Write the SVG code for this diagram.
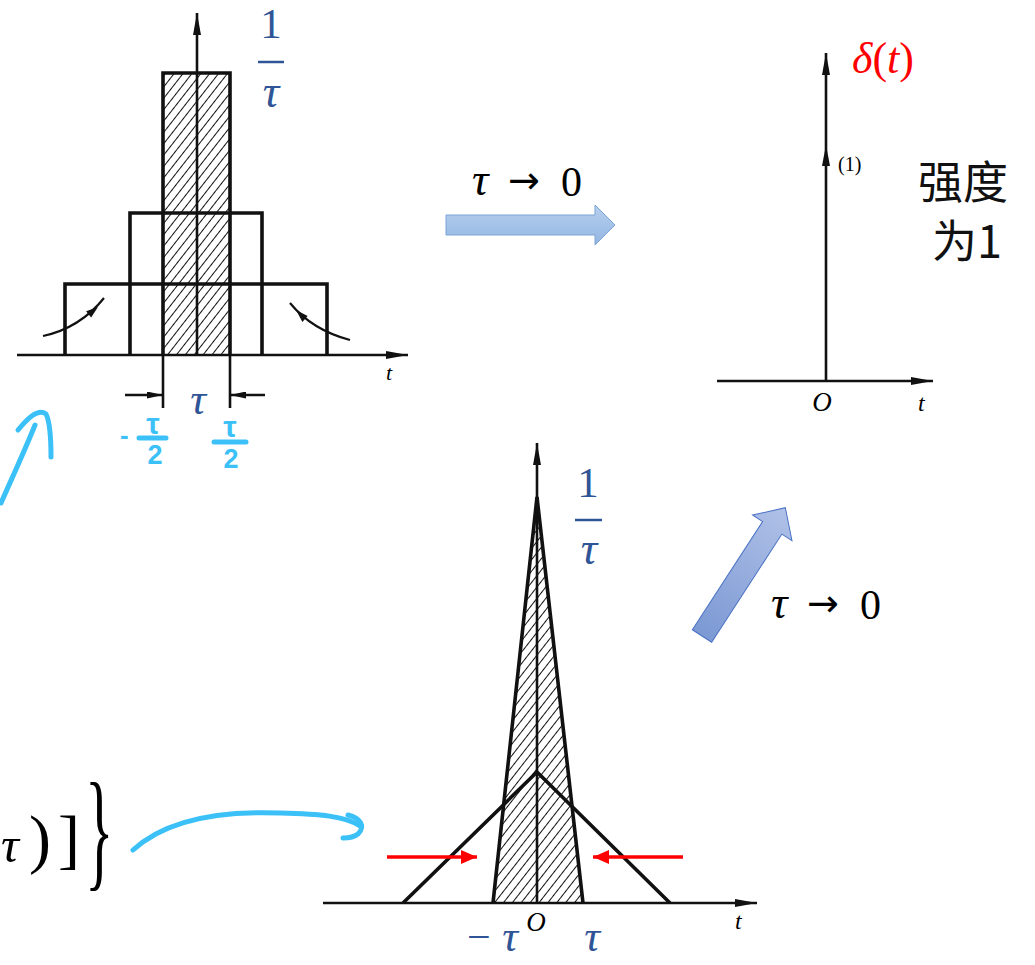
<svg xmlns="http://www.w3.org/2000/svg" width="1035" height="965" viewBox="0 0 1035 965">
<style>
.ax{stroke:#111;stroke-width:2.6;fill:none}
.bold{stroke:#111;stroke-width:3.6;fill:none}
.thin{stroke:#111;stroke-width:2.2;fill:none}
.math{font-family:"Liberation Serif",serif;font-style:italic}
.rm{font-family:"Liberation Serif",serif}
.up{font-style:normal}
.blue{fill:#2F5597}
.cyan{stroke:#3BC1F7;stroke-width:5;fill:none;stroke-linecap:round;stroke-linejoin:round}
.cyt{fill:#3BC1F7;font-family:"Liberation Sans",sans-serif;font-weight:bold}
.cybar{stroke:#3BC1F7;stroke-width:5;stroke-linecap:round}
.bbar{stroke:#2F5597;stroke-width:2.5}
.arr{font-family:"DejaVu Sans",sans-serif;font-style:normal}
</style>
<defs>
<pattern id="hatch" width="7" height="7" patternUnits="userSpaceOnUse" patternTransform="rotate(38)"><line x1="0" y1="0" x2="0" y2="7" stroke="#111" stroke-width="2"/></pattern>
<marker id="ah" viewBox="0 0 22 8" refX="22" refY="4" markerWidth="22" markerHeight="8" markerUnits="userSpaceOnUse" orient="auto"><path d="M0,0 L22,4 L0,8 z" fill="#111"/></marker>
<marker id="ahs" viewBox="0 0 16 7" refX="16" refY="3.5" markerWidth="16" markerHeight="7" markerUnits="userSpaceOnUse" orient="auto"><path d="M0,0 L16,3.5 L0,7 z" fill="#111"/></marker>
<marker id="ahr" viewBox="0 0 16 14" refX="16" refY="7" markerWidth="16" markerHeight="14" markerUnits="userSpaceOnUse" orient="auto"><path d="M0,0 L16,7 L0,14 z" fill="#FF0000"/></marker>
<linearGradient id="gH" x1="0" y1="0" x2="0" y2="1"><stop offset="0" stop-color="#B7CFEE"/><stop offset="1" stop-color="#93B6E2"/></linearGradient>
<linearGradient id="gD" x1="0" y1="0" x2="1" y2="0"><stop offset="0" stop-color="#7C99D4"/><stop offset="1" stop-color="#B0C1E7"/></linearGradient>
</defs>
<rect width="1035" height="965" fill="#fff"/>

<g id="rect-pulses">
  <rect x="163" y="73" width="67" height="282" fill="url(#hatch)"/>
  <path class="bold" d="M163 355 V73 H230 V355 M130 355 V213 H262 V355 M65 355 V284 H327 V355"/>
  <line class="ax" x1="17" y1="355" x2="408" y2="355" marker-end="url(#ah)"/>
  <line class="ax" x1="197" y1="355" x2="197" y2="13" marker-end="url(#ah)"/>
  <path class="thin" d="M43 336 Q80 328 104 298"/>
  <polygon points="98,307 91.1,317.5 86.1,311.3" fill="#111"/>
  <path class="thin" d="M350 340 Q312 330 290 303"/>
  <polygon points="296,310 307.6,315.9 302.4,321.9" fill="#111"/>
  <path class="ax" d="M163 355 V408 M230 355 V408"/>
  <line class="ax" x1="125" y1="395" x2="163" y2="395" marker-end="url(#ahs)"/>
  <line class="ax" x1="265" y1="395" x2="230" y2="395" marker-end="url(#ahs)"/>
  <text class="math" x="386" y="380" font-size="22">t</text>
  <text class="math blue" x="198" y="414" font-size="44" text-anchor="middle">τ</text>
  <text class="rm blue" x="271" y="38" font-size="43" text-anchor="middle">1</text>
  <line class="bbar" x1="258" y1="62" x2="284" y2="62"/>
  <text class="math blue" x="271" y="107" font-size="46" text-anchor="middle">τ</text>
  <text class="cyt" x="120" y="444" font-size="26">-</text>
  <text class="cyt" x="153" y="434" font-size="30" text-anchor="middle">τ</text>
  <line class="cybar" x1="139" y1="438" x2="166" y2="438"/>
  <text class="cyt" x="155" y="464" font-size="27" text-anchor="middle">2</text>
  <text class="cyt" x="230" y="437" font-size="30" text-anchor="middle">τ</text>
  <line class="cybar" x1="214" y1="442" x2="246" y2="442"/>
  <text class="cyt" x="231" y="468" font-size="27" text-anchor="middle">2</text>
</g>

<g id="delta">
  <line class="ax" x1="826" y1="381" x2="826" y2="53" marker-end="url(#ah)"/>
  <polygon points="826,145 822,166 830,166" fill="#111"/>
  <line class="ax" x1="717" y1="381" x2="933" y2="381" marker-end="url(#ah)"/>
  <text class="rm" x="838" y="171" font-size="20">(1)</text>
  <text class="math" x="822" y="411" font-size="27" text-anchor="middle">O</text>
  <text class="math" x="918" y="411" font-size="24">t</text>
  <text class="math" x="852" y="73" font-size="44" fill="#FF0000">δ<tspan class="up">(</tspan>t<tspan class="up">)</tspan></text>
  <text x="918" y="199" font-size="45" font-family="Noto Sans CJK SC, sans-serif" fill="#111">强度</text>
  <text x="932" y="258" font-size="45" font-family="Noto Sans CJK SC, sans-serif" fill="#111">为1</text>
</g>

<g id="tri-pulses">
  <polygon points="537,497 493,903 583,903" fill="url(#hatch)"/>
  <line class="ax" x1="537" y1="903" x2="537" y2="443" marker-end="url(#ah)"/>
  <path class="bold" d="M493 903 L537 497 L583 903"/>
  <path class="bold" d="M403 903 L537 772 L670 903"/>
  <line class="ax" x1="323" y1="903" x2="757" y2="903" marker-end="url(#ah)"/>
  <line x1="387" y1="857" x2="477" y2="857" stroke="#FF0000" stroke-width="3.5" marker-end="url(#ahr)"/>
  <line x1="683" y1="857" x2="593" y2="857" stroke="#FF0000" stroke-width="3.5" marker-end="url(#ahr)"/>
  <text class="math" x="536" y="931" font-size="27" text-anchor="middle">O</text>
  <text class="math" x="735" y="929" font-size="24">t</text>
  <text class="rm blue" x="588" y="497" font-size="43" text-anchor="middle">1</text>
  <line class="bbar" x1="575" y1="520" x2="602" y2="520"/>
  <text class="math blue" x="589" y="564" font-size="46" text-anchor="middle">τ</text>
  <text class="rm blue" x="467" y="951" font-size="42">−</text>
  <text class="math blue" x="510" y="951" font-size="44" text-anchor="middle">τ</text>
  <text class="math blue" x="592" y="951" font-size="44" text-anchor="middle">τ</text>
</g>

<g id="formula">
  <text class="math" x="1" y="862" font-size="50">τ</text>
  <text class="rm" x="29" y="861" font-size="66">)</text>
  <text class="rm" x="58" y="861" font-size="66">]</text>
  <text class="rm" transform="translate(85,873) scale(0.45,1)" font-size="132">}</text>
</g>

<g id="connectors">
  <path d="M446 215 H595 V205 L615 225 L595 245 V235 H446 Z" fill="url(#gH)" stroke="#7AA4D6" stroke-width="1"/>
  <text class="math" x="472" y="195" font-size="46">τ</text>
  <text class="arr" x="508" y="193" font-size="38">→</text>
  <text class="rm" x="561" y="196" font-size="42">0</text>
  <path transform="translate(702,636) rotate(-57)" d="M0 -11.5 H129 V-23.5 L153 0 L129 23.5 V11.5 H0 Z" fill="url(#gD)" stroke="#4A72C4" stroke-width="1"/>
  <text class="math" x="771" y="618" font-size="46">τ</text>
  <text class="arr" x="807" y="616" font-size="38">→</text>
  <text class="rm" x="860" y="619" font-size="42">0</text>
  <path class="cyan" d="M1 503 C12 478 25 450 35 425"/>
  <path class="cyan" d="M18 430 C28 418 38 408 46 414 C51 424 51 445 51 457"/>
  <path class="cyan" d="M133 850 C170 816 230 811 280 813 C320 814 345 816 360 826"/>
  <path class="cyan" d="M348 815 C360 818 366 826 358 834 C353 838 347 838 343 838"/>
</g>
</svg>
